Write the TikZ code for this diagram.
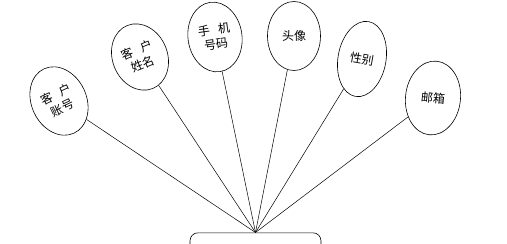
\documentclass[tikz,border=0pt]{standalone}
\usepackage{fontspec}
\newfontfamily\cjk{Noto Sans CJK SC}
\usetikzlibrary{shapes.geometric}

\begin{document}
\begin{tikzpicture}[x=1pt,y=-1pt]

\tikzstyle{attr}=[draw,ellipse,line width=0.6pt,inner sep=0pt,align=center,font=\cjk\fontsize{12}{15}\selectfont]
\tikzstyle{link}=[line width=0.5pt]

\useasboundingbox (0,0) rectangle (507,244);
\clip (0,0) rectangle (507,244);

% Encja klient

\node (klient) [draw,line width=0.6pt,rounded corners=8pt,minimum width=131pt,minimum height=40pt,anchor=north] at (255.5,232.5) {};
\coordinate (hub) at (klient.north);

% Atrybuty

\node (zhanghao) [attr,minimum width=55pt,minimum height=71pt,rotate=25] at (59,101) {客\hspace{0.7em}户\\账号};
\node (xingming) [attr,minimum width=55pt,minimum height=68pt,rotate=22] at (140,57) {客\hspace{0.7em}户\\姓名};
\node (shouji) [attr,minimum width=54pt,minimum height=70pt,rotate=8] at (215,37) {手\hspace{0.7em}机\\号码};
\node (touxiang) [attr,minimum width=53pt,minimum height=69pt] at (294,36) {头像};
\node (xingbie) [attr,minimum width=48pt,minimum height=76pt,rotate=-10] at (362,59) {性别};
\node (youxiang) [attr,minimum width=55pt,minimum height=74pt,rotate=-6] at (433,98) {邮箱};

% Połączenia

\draw [link] (zhanghao) -- (hub);
\draw [link] (xingming) -- (hub);
\draw [link] (shouji) -- (hub);
\draw [link] (touxiang) -- (hub);
\draw [link] (xingbie) -- (hub);
\draw [link] (youxiang) -- (hub);

\end{tikzpicture}
\end{document}
